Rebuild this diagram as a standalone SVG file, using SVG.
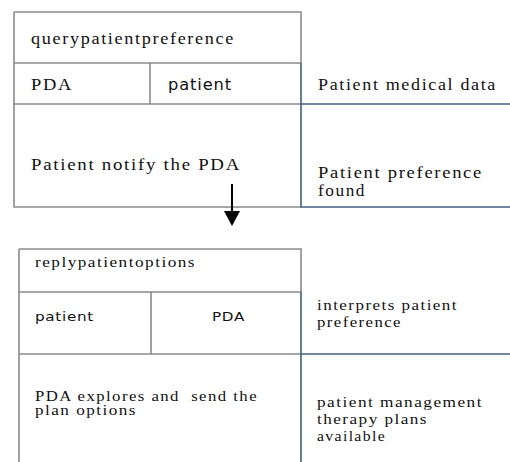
<svg xmlns="http://www.w3.org/2000/svg" width="510" height="462" viewBox="0 0 510 462">
<style>
.g{stroke:#8a8a8a;stroke-width:1.6;fill:none}
.b{stroke:#41607f;stroke-width:1.6;fill:none}
text{fill:#111;white-space:pre}
.s1{font-family:"Liberation Serif","Times New Roman",serif;font-size:16.5px;letter-spacing:1.5px}
.s2{font-family:"Liberation Serif","Times New Roman",serif;font-size:14px;letter-spacing:1.2px}
.a1{font-family:"DejaVu Sans","Liberation Sans",sans-serif;font-size:15px;letter-spacing:0.8px}
.a2{font-family:"DejaVu Sans","Liberation Sans",sans-serif;font-size:13px;letter-spacing:0.6px}
</style>
<rect width="510" height="462" fill="#fff"/>
<g id="query-box">
<path class="g" d="M14 12H301V63M14 12V207H301M14 63H301M150 63V104M14 104H301"/>
<text class="s1" x="31" y="44" textLength="204" lengthAdjust="spacingAndGlyphs">querypatientpreference</text>
<text class="s1" x="31" y="90" textLength="42" lengthAdjust="spacingAndGlyphs">PDA</text>
<text class="a1" x="168" y="90" textLength="64" lengthAdjust="spacingAndGlyphs">patient</text>
<text class="s1" x="31" y="170" textLength="210" lengthAdjust="spacingAndGlyphs">Patient notify the PDA</text>
</g>
<g id="query-notes">
<path class="b" d="M301 63V207H510M301 104H510"/>
<text class="s1" x="318" y="90" textLength="179" lengthAdjust="spacingAndGlyphs">Patient medical data</text>
<text class="s1" x="318" y="178" textLength="165" lengthAdjust="spacingAndGlyphs">Patient preference</text>
<text class="s1" x="318" y="196" textLength="48" lengthAdjust="spacingAndGlyphs">found</text>
</g>
<g id="connectors">
<line x1="232" y1="184" x2="232" y2="213" stroke="#000" stroke-width="2"/>
<polygon points="224,211 240,211 232,226" fill="#000"/>
</g>
<g id="reply-box">
<path class="g" d="M19 249H301V292M19 249V462M19 292H301M151 292V354M19 354H301"/>
<text class="s2" x="35" y="267" textLength="161" lengthAdjust="spacingAndGlyphs">replypatientoptions</text>
<text class="a2" x="35" y="321" textLength="59" lengthAdjust="spacingAndGlyphs">patient</text>
<text class="a2" x="212" y="321" textLength="33" lengthAdjust="spacingAndGlyphs">PDA</text>
<text class="s2" x="35" y="401" textLength="223" lengthAdjust="spacingAndGlyphs">PDA explores and  send the</text>
<text class="s2" x="35" y="415" textLength="102" lengthAdjust="spacingAndGlyphs">plan options</text>
</g>
<g id="reply-notes">
<path class="b" d="M301 292V462M301 354H510"/>
<text class="s2" x="317" y="310" textLength="141" lengthAdjust="spacingAndGlyphs">interprets patient</text>
<text class="s2" x="317" y="327" textLength="85" lengthAdjust="spacingAndGlyphs">preference</text>
<text class="s2" x="317" y="407" textLength="166" lengthAdjust="spacingAndGlyphs">patient management</text>
<text class="s2" x="317" y="424" textLength="111" lengthAdjust="spacingAndGlyphs">therapy plans</text>
<text class="s2" x="317" y="441" textLength="69" lengthAdjust="spacingAndGlyphs">available</text>
</g>
</svg>
